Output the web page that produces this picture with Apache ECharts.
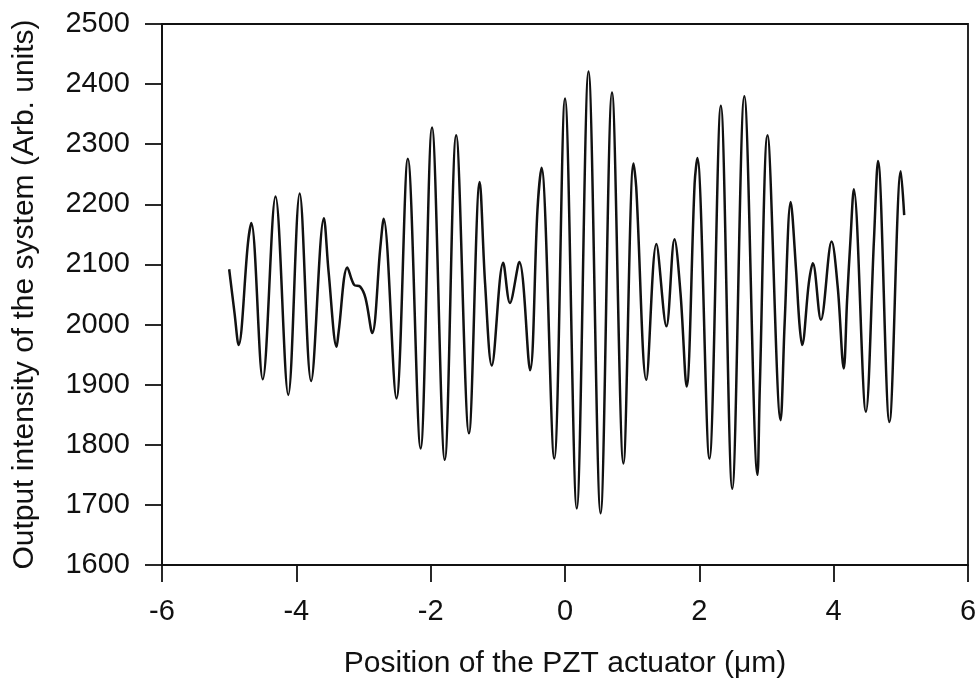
<!DOCTYPE html>
<html>
<head>
<meta charset="utf-8">
<script src="https://cdn.jsdelivr.net/npm/echarts@6/dist/echarts.min.js"></script>
<style>
  html, body { margin: 0; padding: 0; background: #fff; }
  #chart { width: 980px; height: 689px; }
</style>
</head>
<body>
<div id="chart"></div>
<script>
// PZT position (µm) and measured output intensity, traced extrema and shoulders
const positions = [
  -5.00, -4.92, -4.86, -4.72, -4.67, -4.50, -4.31, -4.12, -3.95, -3.78,
  -3.59, -3.52, -3.40, -3.37, -3.24, -3.14, -3.05, -2.97, -2.87, -2.75,
  -2.70, -2.51, -2.34, -2.15, -1.98, -1.79, -1.62, -1.43, -1.27, -1.19,
  -1.09, -0.92, -0.82, -0.68, -0.52, -0.41, -0.35, -0.16, 0.00, 0.175,
  0.35, 0.53, 0.70, 0.87, 1.02, 1.06, 1.21, 1.36, 1.51, 1.63,
  1.72, 1.81, 1.93, 1.97, 2.15, 2.32, 2.49, 2.67, 2.866, 2.90,
  3.015, 3.21, 3.27, 3.36, 3.44, 3.49, 3.53, 3.63, 3.69, 3.81,
  3.97, 4.06, 4.15, 4.20, 4.25, 4.30, 4.48, 4.60, 4.66, 4.83,
  5.00, 5.05
];
const intensity = [
  2092, 2019, 1966, 2136, 2169, 1909, 2213, 1883, 2218, 1906,
  2177, 2088, 1963, 1988, 2095, 2066, 2063, 2044, 1986, 2128,
  2176, 1877, 2276, 1794, 2328, 1775, 2315, 1819, 2237, 2069,
  1932, 2103, 2036, 2104, 1924, 2191, 2261, 1777, 2376, 1694,
  2421, 1686, 2386, 1769, 2268, 2229, 1908, 2134, 1997, 2142,
  2052, 1897, 2235, 2277, 1777, 2364, 1727, 2380, 1750, 1894,
  2315, 1841, 2002, 2204, 2091, 2002, 1966, 2069, 2102, 2008,
  2138, 2063, 1927, 2041, 2141, 2225, 1855, 2141, 2272, 1838,
  2255, 2182
];
const xTicks = { min: -6, max: 6, step: 2 };
const yTicks = { min: 1600, max: 2500, step: 100 };

const points = positions.map((x, i) => [x, intensity[i]]);

const font = '"Liberation Sans", Arial, Helvetica, sans-serif';
const ink = '#111';
const plain = v => String(v);

const chart = echarts.init(document.getElementById('chart'), null, { renderer: 'canvas' });
chart.setOption({
  animation: false,
  backgroundColor: '#fff',
  grid: {
    left: 162, right: 12, top: 24, bottom: 124,
    show: true, borderColor: ink, borderWidth: 1.8, backgroundColor: 'transparent'
  },
  xAxis: {
    type: 'value',
    min: xTicks.min, max: xTicks.max, interval: xTicks.step,
    name: 'Position of the PZT actuator (\u03bcm)',
    nameLocation: 'middle', nameGap: 84,
    nameTextStyle: { fontFamily: font, fontSize: 30, color: ink },
    axisLine: { show: true, onZero: false, lineStyle: { color: ink, width: 1.8 } },
    axisTick: { show: true, inside: false, length: 17, lineStyle: { color: ink, width: 1.8 } },
    axisLabel: { margin: 32, fontFamily: font, fontSize: 29, color: ink, formatter: plain },
    splitLine: { show: false }
  },
  yAxis: {
    type: 'value',
    min: yTicks.min, max: yTicks.max, interval: yTicks.step,
    name: 'Output intensity of the system (Arb. units)',
    nameLocation: 'middle', nameGap: 122, nameRotate: 90,
    nameTextStyle: { fontFamily: font, fontSize: 30, color: ink },
    axisLine: { show: true, onZero: false, lineStyle: { color: ink, width: 1.8 } },
    axisTick: { show: true, inside: false, length: 17, lineStyle: { color: ink, width: 1.8 } },
    axisLabel: { margin: 32, fontFamily: font, fontSize: 29, color: ink, formatter: plain },
    splitLine: { show: false }
  },
  series: [{
    type: 'line',
    data: points,
    smooth: 0.35,
    symbol: 'none',
    lineStyle: { color: ink, width: 2.5 }
  }]
});
</script>
</body>
</html>
